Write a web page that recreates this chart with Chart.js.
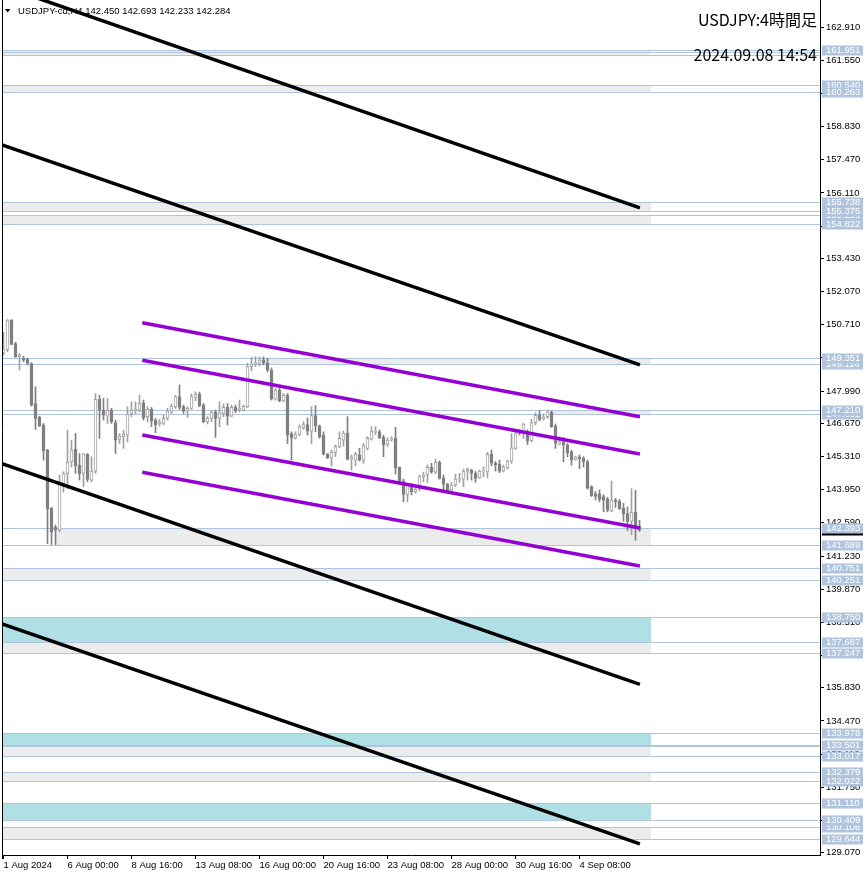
<!DOCTYPE html>
<html>
<head>
<meta charset="utf-8">
<script src="https://cdn.jsdelivr.net/npm/chart.js@4"></script>
<style>
  html, body { margin: 0; padding: 0; background: #fff; }
  canvas { display: block; }
</style>
</head>
<body>
<canvas id="chart" width="866" height="876" style="width:866px;height:876px"></canvas>
<script>
// USDJPY-cd H4, 160 bars: 1 Aug 2024 08:00 .. 6 Sep 2024 20:00
const openP = [
  149.55, 149.70, 150.90, 149.94, 149.40, 149.33, 149.29, 149.12, 147.48, 146.91,
  146.59, 145.57, 143.18, 142.40, 142.29, 144.20, 144.61, 145.09, 145.60, 144.96,
  144.62, 145.41, 144.34, 144.71, 147.65, 147.21, 146.96, 147.21, 146.69, 146.01,
  146.12, 146.19, 147.07, 147.18, 147.21, 147.51, 146.94, 147.24, 146.80, 146.64,
  146.66, 146.87, 147.14, 147.35, 147.76, 147.35, 147.18, 147.28, 147.73, 147.87,
  147.42, 146.73, 146.87, 147.14, 146.87, 147.07, 147.32, 146.96, 147.32, 147.24,
  147.21, 147.35, 148.99, 149.06, 149.10, 149.26, 149.14, 148.85, 147.66, 148.03,
  147.58, 147.82, 146.25, 146.06, 146.21, 146.48, 146.62, 146.35, 146.98, 146.57,
  146.19, 145.40, 145.25, 145.48, 145.71, 145.98, 146.27, 145.20, 145.16, 145.37,
  145.16, 145.64, 146.02, 146.29, 146.32, 146.10, 145.80, 145.98, 146.05, 144.86,
  144.30, 143.75, 144.14, 143.87, 143.97, 144.48, 144.55, 144.86, 144.67, 145.07,
  144.41, 144.17, 143.93, 144.14, 144.35, 144.38, 144.71, 144.75, 144.62, 144.43,
  144.68, 144.68, 145.40, 145.03, 145.00, 144.71, 144.84, 145.12, 145.64, 146.33,
  146.25, 146.30, 145.95, 146.69, 147.00, 146.85, 146.94, 147.13, 146.55, 145.80,
  145.91, 145.78, 145.50, 145.19, 145.29, 145.24, 145.09, 144.08, 143.78, 143.78,
  143.67, 143.55, 143.08, 143.52, 143.48, 143.18, 142.97, 142.65, 143.02, 142.450
];
const highP = [
  150.40, 150.92, 150.92, 149.99, 149.53, 149.42, 149.34, 149.15, 148.17, 146.96,
  146.66, 145.60, 143.22, 142.50, 144.55, 144.68, 146.39, 145.98, 146.25, 145.43,
  145.43, 145.43, 145.30, 147.89, 147.82, 147.69, 147.69, 147.28, 146.80, 146.25,
  146.39, 147.35, 147.55, 147.55, 147.82, 147.62, 147.35, 147.32, 146.87, 146.83,
  147.00, 147.28, 147.46, 147.82, 148.24, 147.42, 147.35, 147.87, 147.96, 147.95,
  147.48, 146.94, 147.18, 147.21, 147.55, 147.46, 147.48, 147.42, 147.42, 147.62,
  147.42, 149.12, 149.37, 149.40, 149.39, 149.39, 149.34, 148.94, 148.10, 148.11,
  147.89, 147.89, 146.32, 146.32, 146.60, 146.73, 146.89, 147.35, 147.39, 146.60,
  146.32, 145.43, 145.57, 145.78, 146.32, 146.35, 146.94, 145.37, 145.48, 145.64,
  145.84, 146.12, 146.53, 146.53, 146.39, 146.19, 146.07, 146.12, 146.50, 144.88,
  144.38, 144.21, 144.21, 144.03, 144.55, 144.67, 144.96, 145.03, 145.20, 145.12,
  144.55, 144.21, 144.25, 144.58, 144.62, 144.79, 144.84, 144.79, 144.69, 144.75,
  144.88, 145.48, 145.57, 145.10, 145.16, 144.96, 145.16, 146.25, 146.32, 146.41,
  146.66, 146.40, 146.83, 147.10, 147.21, 147.05, 147.21, 147.18, 146.64, 146.12,
  146.09, 145.84, 145.57, 145.32, 145.37, 145.30, 145.16, 144.11, 143.87, 143.94,
  143.74, 143.63, 144.30, 143.59, 143.55, 143.39, 143.24, 143.99, 143.92, 142.693
];
const lowP = [
  149.47, 149.60, 149.88, 149.37, 148.85, 149.19, 149.06, 147.37, 146.42, 146.53,
  145.16, 141.74, 141.70, 141.70, 142.22, 143.85, 143.98, 144.88, 144.62, 144.34,
  144.07, 144.27, 144.27, 144.62, 146.05, 146.80, 146.66, 146.66, 145.43, 145.84,
  145.64, 145.91, 146.94, 147.07, 147.14, 146.80, 146.73, 146.53, 146.28, 146.55,
  146.60, 146.80, 147.07, 147.28, 147.24, 147.07, 146.91, 147.24, 147.59, 147.35,
  146.69, 146.64, 146.73, 146.09, 146.53, 146.94, 146.60, 146.94, 147.10, 147.14,
  147.18, 147.32, 148.82, 148.99, 149.02, 149.06, 148.77, 147.62, 147.62, 147.55,
  147.55, 145.84, 145.16, 146.02, 146.16, 146.43, 146.19, 145.84, 146.32, 146.06,
  145.37, 145.23, 144.93, 145.30, 145.67, 145.73, 145.16, 144.75, 144.93, 145.12,
  145.03, 145.57, 145.98, 146.21, 146.05, 145.30, 145.71, 145.94, 144.59, 144.21,
  143.45, 143.45, 143.73, 143.80, 143.90, 144.27, 144.25, 144.62, 144.60, 144.38,
  143.93, 143.90, 143.90, 144.07, 144.25, 144.07, 144.34, 144.34, 144.25, 144.41,
  144.48, 144.43, 144.93, 144.71, 144.65, 144.68, 144.79, 145.03, 145.60, 146.19,
  146.05, 145.80, 145.91, 146.60, 146.77, 146.80, 146.87, 146.50, 145.64, 145.78,
  145.09, 145.30, 144.95, 145.16, 144.81, 144.88, 143.97, 143.67, 143.53, 143.45,
  143.04, 143.04, 143.04, 143.22, 143.14, 142.65, 142.26, 142.10, 141.88, 142.233
];
const closeP = [
  149.70, 150.90, 149.90, 149.40, 149.47, 149.26, 149.12, 147.41, 146.87, 146.57,
  145.54, 143.15, 142.22, 142.30, 144.20, 144.61, 145.07, 145.57, 144.93, 144.59,
  145.41, 144.37, 144.71, 147.65, 147.21, 147.00, 147.21, 146.73, 145.98, 146.14,
  146.23, 147.05, 147.21, 147.24, 147.48, 146.89, 147.24, 146.77, 146.60, 146.73,
  146.87, 147.17, 147.37, 147.76, 147.32, 147.17, 147.28, 147.76, 147.87, 147.39,
  146.73, 146.87, 147.11, 146.87, 147.10, 147.32, 146.96, 147.32, 147.18, 147.25,
  147.37, 148.99, 149.10, 149.15, 149.26, 149.14, 148.85, 147.66, 148.03, 147.58,
  147.82, 146.18, 146.06, 146.21, 146.53, 146.62, 146.35, 146.98, 146.57, 146.10,
  145.40, 145.25, 145.48, 145.71, 146.05, 146.27, 145.20, 145.29, 145.40, 145.16,
  145.75, 146.05, 146.35, 146.35, 146.06, 145.78, 145.98, 146.03, 144.85, 144.30,
  143.75, 144.14, 143.87, 143.97, 144.48, 144.55, 144.86, 144.67, 145.07, 144.41,
  144.17, 143.93, 144.14, 144.38, 144.38, 144.71, 144.78, 144.62, 144.41, 144.71,
  144.71, 145.40, 145.03, 144.96, 144.71, 144.88, 145.12, 145.66, 146.25, 146.25,
  146.64, 145.95, 146.69, 147.00, 146.83, 146.91, 147.14, 146.53, 145.84, 145.92,
  145.78, 145.46, 145.16, 145.29, 145.22, 145.09, 144.01, 143.70, 143.67, 143.55,
  143.52, 143.11, 143.52, 143.45, 143.17, 142.97, 142.65, 143.02, 142.45, 142.284
];

// time axis labels (bar index -> label)
const timeTickBars = [0, 16, 32, 48, 64, 80, 96, 112, 128, 144];
const timeTickLabels = ['1 Aug 2024', '6 Aug 00:00', '8 Aug 16:00', '13 Aug 08:00', '16 Aug 00:00',
  '20 Aug 16:00', '23 Aug 08:00', '28 Aug 00:00', '30 Aug 16:00', '4 Sep 08:00'];

// price axis ticks
const priceTicks = [162.910, 161.550, 160.190, 158.830, 157.470, 156.110, 154.750, 153.430, 152.070,
  150.710, 149.350, 147.990, 146.670, 145.310, 143.950, 142.590, 141.230, 139.870, 138.510,
  137.150, 135.830, 134.470, 133.110, 131.750, 130.390, 129.070];

// support / resistance zones
const zoneTop    = [161.951, 160.540, 155.738, 155.213, 149.351, 147.210, 142.393, 140.751, 138.750, 137.687, 133.978, 133.430, 132.379, 131.110, 130.106];
const zoneBottom = [161.750, 160.263, 155.375, 154.822, 149.114, 147.032, 141.689, 140.251, 137.687, 137.247, 133.501, 133.017, 132.022, 130.409, 129.644];
const zoneFromBar = [-5, -5, -5, -5, 64.5, 137.05, 12.9, -5, -5, -5, -5, -5, -5, -5, -5];
const zoneKind   = ['g', 'g', 'g', 'g', 'g', 'g', 'g', 'g', 'b', 'g', 'b', 'g', 'g', 'b', 'g'];
const zoneToBar = 161.9;

// horizontal levels and the price labels shown on the axis (later ones on top)
const levelPrices = [161.951, 161.870, 161.750, 160.540, 160.263, 155.738, 155.375, 155.213, 154.822,
  149.351, 149.114, 147.210, 147.032, 142.393, 141.689, 140.751, 140.251, 138.750, 137.700, 137.687,
  137.247, 133.978, 133.501, 133.430, 133.017, 132.379, 132.022, 131.110, 130.409, 130.106, 129.644];
const labelPrices = [161.951, 160.540, 160.263, 155.738, 155.213, 155.375, 154.822, 149.114, 149.351,
  147.032, 147.210, 141.689, 142.393, 140.751, 140.251, 138.750, 137.687, 137.247, 133.978, 133.501,
  133.017, 132.379, 132.022, 131.110, 130.106, 130.409, 129.644];
const lastPrice = 142.284;

// trend channels (price at first / last bar)
const blackBars = [-0.375, 159.1];
const blackFrom = [164.60, 158.08, 145.01, 138.45];
const blackTo   = [155.50, 149.06, 135.97, 129.43];
const purpleBars = [34.7, 159.1];
const purpleFrom = [150.79, 149.25, 146.19, 144.66];
const purpleTo   = [146.94, 145.41, 142.38, 140.82];

const BULL = '#A0A0A0';
const BEAR = '#808080';

const bodies = [], wicks = [], bodyFill = [], bodyLine = [], wickColor = [];
openP.forEach((o, i) => {
  const c = closeP[i];
  const up = c >= o;
  bodies.push({ x: i, y: [Math.min(o, c), Math.max(o, c)] });
  wicks.push({ x: i, y: [lowP[i], highP[i]] });
  bodyFill.push(up ? '#ffffff' : BEAR);
  bodyLine.push(up ? BULL : BEAR);
  wickColor.push(up ? BULL : BEAR);
});

const lineSets = [];
blackFrom.forEach((p, i) => {
  lineSets.push({
    type: 'line',
    data: [{ x: blackBars[0], y: p }, { x: blackBars[1], y: blackTo[i] }],
    borderColor: '#000000', borderWidth: 3.5, pointRadius: 0, fill: false
  });
});
purpleFrom.forEach((p, i) => {
  lineSets.push({
    type: 'line',
    data: [{ x: purpleBars[0], y: p }, { x: purpleBars[1], y: purpleTo[i] }],
    borderColor: '#9400D3', borderWidth: 3.5, pointRadius: 0, fill: false
  });
});

const decor = {
  id: 'decor',
  beforeDraw(chart) {
    const ctx = chart.ctx;
    ctx.save();
    ctx.fillStyle = '#ffffff';
    ctx.fillRect(0, 0, chart.width, chart.height);
    ctx.restore();
  },
  beforeDatasetsDraw(chart) {
    const { ctx, chartArea: a, scales: { x, y } } = chart;
    ctx.save();
    ctx.beginPath();
    ctx.rect(a.left, a.top, a.right - a.left, a.bottom - a.top);
    ctx.clip();
    zoneTop.forEach((t, i) => {
      const x0 = Math.round(Math.max(a.left, x.getPixelForValue(zoneFromBar[i])));
      const x1 = Math.round(x.getPixelForValue(zoneToBar));
      const y0 = Math.round(y.getPixelForValue(t));
      const y1 = Math.round(y.getPixelForValue(zoneBottom[i]));
      ctx.fillStyle = zoneKind[i] === 'b' ? '#B0E0E6' : '#ECECEC';
      ctx.fillRect(x0, y0, x1 - x0, y1 - y0);
    });
    ctx.strokeStyle = '#B0C4DE';
    ctx.lineWidth = 1;
    levelPrices.forEach(p => {
      const yy = Math.round(y.getPixelForValue(p)) + 0.5;
      ctx.beginPath();
      ctx.moveTo(a.left, yy);
      ctx.lineTo(a.right, yy);
      ctx.stroke();
    });
    // header line
    ctx.fillStyle = '#000';
    ctx.beginPath();
    ctx.moveTo(5, 9); ctx.lineTo(10.5, 9); ctx.lineTo(7.75, 12.5); ctx.closePath();
    ctx.fill();
    ctx.font = '9.5px "Liberation Sans", Arial, sans-serif';
    ctx.textBaseline = 'middle';
    ctx.textAlign = 'left';
    ctx.fillText('USDJPY-cd,H4 142.450 142.693 142.233 142.284', 18, 11);
    ctx.restore();
  },
  afterDatasetsDraw(chart) {
    const { ctx, chartArea: a } = chart;
    ctx.save();
    ctx.fillStyle = '#000';
    ctx.textAlign = 'right';
    ctx.textBaseline = 'middle';
    ctx.font = '16px "Noto Sans CJK JP", "Noto Sans", sans-serif';
    ctx.fillText('USDJPY:4時間足', a.right - 3, 20);
    ctx.fillText('2024.09.08 14:54', a.right - 3, 55);
    ctx.restore();
  },
  afterDraw(chart) {
    const { ctx, chartArea: a, scales: { y } } = chart;
    ctx.save();
    ctx.font = '9.5px "Liberation Sans", Arial, sans-serif';
    ctx.textBaseline = 'middle';
    ctx.textAlign = 'left';
    const tag = (p, bg, fg) => {
      const yy = Math.round(y.getPixelForValue(p));
      ctx.fillStyle = bg;
      ctx.fillRect(a.right + 2, yy - 4.5, 41, 10);
      ctx.fillStyle = fg;
      ctx.fillText(p.toFixed(3), a.right + 6, yy + 0.5);
    };
    tag(lastPrice, '#000000', '#ffffff');
    labelPrices.forEach(p => tag(p, '#B0C4DE', '#ffffff'));
    // left frame
    ctx.strokeStyle = '#000';
    ctx.lineWidth = 1;
    ctx.beginPath();
    ctx.moveTo(a.left + 0.5, a.top);
    ctx.lineTo(a.left + 0.5, a.bottom + 4);
    ctx.stroke();
    ctx.restore();
  }
};

Chart.defaults.font.family = '"Liberation Sans", Arial, sans-serif';
Chart.defaults.font.size = 9.5;
Chart.defaults.color = '#000';

new Chart(document.getElementById('chart'), {
  type: 'bar',
  data: {
    datasets: [
      ...lineSets,
      {
        type: 'bar', data: bodies, grouped: false, barThickness: 3, minBarLength: 1,
        backgroundColor: bodyFill, borderColor: bodyLine, borderWidth: 1, borderSkipped: false
      },
      {
        type: 'bar', data: wicks, grouped: false, barThickness: 1,
        backgroundColor: wickColor, borderWidth: 0
      }
    ]
  },
  options: {
    responsive: false,
    devicePixelRatio: 1,
    animation: false,
    events: [],
    layout: { padding: { left: 2, top: 0, right: 0, bottom: 0 } },
    plugins: { legend: { display: false }, tooltip: { enabled: false } },
    scales: {
      x: {
        type: 'linear', min: -0.375, max: 204.125, offset: false,
        grid: { offset: false, drawOnChartArea: false, drawTicks: true, tickLength: 4, color: '#000' },
        border: { color: '#000' },
        afterBuildTicks: s => { s.ticks = timeTickBars.map(v => ({ value: v })); },
        afterFit: s => { s.height = 21; s.paddingLeft = 0; s.paddingRight = 0; },
        ticks: {
          autoSkip: false, maxRotation: 0, minRotation: 0, align: 'start', padding: 1,
          callback: (v, i) => timeTickLabels[i]
        }
      },
      y: {
        type: 'linear', position: 'right', min: 128.976, max: 164.017,
        grid: { drawOnChartArea: false, drawTicks: true, tickLength: 4, color: '#000' },
        border: { color: '#000' },
        afterBuildTicks: s => { s.ticks = priceTicks.map(v => ({ value: v })); },
        afterFit: s => { s.width = 46; s.paddingTop = 0; s.paddingBottom = 0; },
        ticks: { autoSkip: false, padding: 2, callback: v => v.toFixed(3) }
      }
    }
  },
  plugins: [decor]
});
</script>
</body>
</html>
